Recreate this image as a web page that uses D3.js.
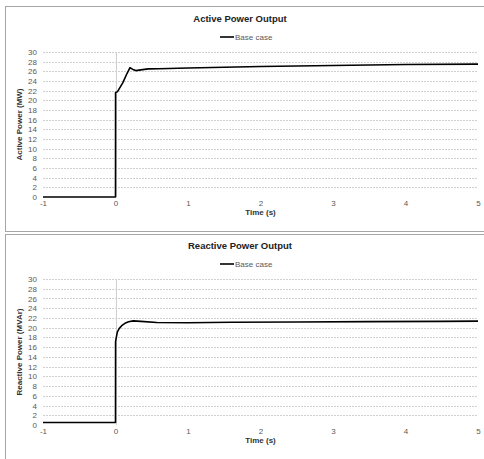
<!DOCTYPE html>
<html>
<head>
<meta charset="utf-8">
<script src="https://cdn.jsdelivr.net/npm/d3@7.9.0/dist/d3.min.js"></script>
<style>
  body { margin: 0; background: #fff; }
  svg { display: block; font-family: "Liberation Sans", Arial, sans-serif; }
</style>
</head>
<body>
<svg id="chart" width="484" height="459"></svg>
<script>
// time axis ticks
const timeTicks = [-1, 0, 1, 2, 3, 4, 5];
const powerTicks = d3.range(0, 31, 2);

// active power (MW)
const activeTime  = [-1, 0, 0.001, 0.02, 0.04, 0.1, 0.16, 0.2, 0.24, 0.28, 0.35, 0.45, 0.6, 1, 2, 3, 4, 5];
const activeValue = [0, 0, 21.6, 21.7, 22.1, 23.6, 25.6, 26.75, 26.4, 26.15, 26.3, 26.5, 26.55, 26.7, 27.0, 27.2, 27.4, 27.5];

// reactive power (MVAr)
const reactiveTime  = [-1, 0, 0.001, 0.025, 0.05, 0.085, 0.13, 0.18, 0.245, 0.35, 0.57, 1, 1.6, 2.5, 3.5, 4.5, 5];
const reactiveValue = [0.5, 0.5, 17.2, 19.1, 19.8, 20.4, 20.9, 21.2, 21.4, 21.3, 21.05, 21.0, 21.1, 21.15, 21.25, 21.3, 21.35];

const svg = d3.select('#chart');

// panel frames
svg.append('rect').attr('x', 5.5).attr('y', 6.5).attr('width', 490).attr('height', 225)
  .attr('fill', 'none').attr('stroke', '#a6a6a6');
svg.append('rect').attr('x', 5.5).attr('y', 234.5).attr('width', 490).attr('height', 240)
  .attr('fill', 'none').attr('stroke', '#a6a6a6');

function drawPanel(opt) {
  const g = svg.append('g');
  const x = d3.scaleLinear().domain([-1, 5]).range([43, 478]);
  const y = d3.scaleLinear().domain([0, 30]).range([opt.bottom, opt.top]);

  // horizontal gridlines
  g.selectAll('.grid').data(powerTicks.filter(d => d > 0)).join('line')
    .attr('x1', x(-1)).attr('x2', x(5))
    .attr('y1', d => Math.round(y(d)) + 0.5).attr('y2', d => Math.round(y(d)) + 0.5)
    .attr('stroke', '#d0d0d0').attr('stroke-width', 1)
    .attr('stroke-dasharray', '2,1');

  // vertical line at t = 0
  g.append('line').attr('x1', Math.round(x(0)) + 0.5).attr('x2', Math.round(x(0)) + 0.5)
    .attr('y1', y(30)).attr('y2', y(0)).attr('stroke', '#d0d0d0');

  // y tick labels
  const yAxis = d3.axisLeft(y).tickValues(powerTicks).tickSize(0).tickPadding(0);
  const ya = g.append('g').attr('transform', 'translate(37,0)').call(yAxis);
  ya.select('.domain').remove();
  ya.selectAll('text').attr('font-size', 8).attr('fill', '#595959').attr('font-family', 'Liberation Sans, Arial');

  // x tick labels
  const xAxis = d3.axisBottom(x).tickValues(timeTicks).tickFormat(d => String(d)).tickSize(0).tickPadding(0);
  const xa = g.append('g').attr('transform', `translate(0,${opt.bottom + 3})`).call(xAxis);
  xa.select('.domain').remove();
  xa.selectAll('text').attr('font-size', 8).attr('fill', '#595959').attr('font-family', 'Liberation Sans, Arial');

  // data line
  const line = d3.line().x(d => x(d[0])).y(d => y(d[1]));
  g.append('path').datum(d3.zip(opt.t, opt.v))
    .attr('d', line).attr('fill', 'none')
    .attr('stroke', '#000').attr('stroke-width', 1.6).attr('stroke-linejoin', 'round');

  // titles
  g.append('text').attr('x', 240).attr('y', opt.titleY).attr('text-anchor', 'middle')
    .attr('font-size', 9.5).attr('font-weight', 'bold').attr('fill', '#222').text(opt.title);

  g.append('line').attr('x1', 220).attr('x2', 234).attr('y1', opt.legendY).attr('y2', opt.legendY)
    .attr('stroke', '#000').attr('stroke-width', 1.6);
  g.append('text').attr('x', 235).attr('y', opt.legendY + 3).attr('font-size', 8)
    .attr('fill', '#595959').text('Base case');

  g.append('text').attr('x', x(2)).attr('y', opt.bottom + 18).attr('text-anchor', 'middle')
    .attr('font-size', 8).attr('font-weight', 'bold').attr('fill', '#333').text('Time (s)');

  g.append('text')
    .attr('transform', `translate(22,${(y(0) + y(30)) / 2}) rotate(-90)`)
    .attr('text-anchor', 'middle').attr('font-size', 8).attr('font-weight', 'bold')
    .attr('fill', '#333').text(opt.yLabel);
}

drawPanel({
  top: 52, bottom: 197, titleY: 22, legendY: 37,
  title: 'Active Power Output', yLabel: 'Active Power (MW)',
  t: activeTime, v: activeValue
});

drawPanel({
  top: 279, bottom: 425, titleY: 249, legendY: 264,
  title: 'Reactive Power Output', yLabel: 'Reactive Power (MVAr)',
  t: reactiveTime, v: reactiveValue
});
</script>
</body>
</html>
